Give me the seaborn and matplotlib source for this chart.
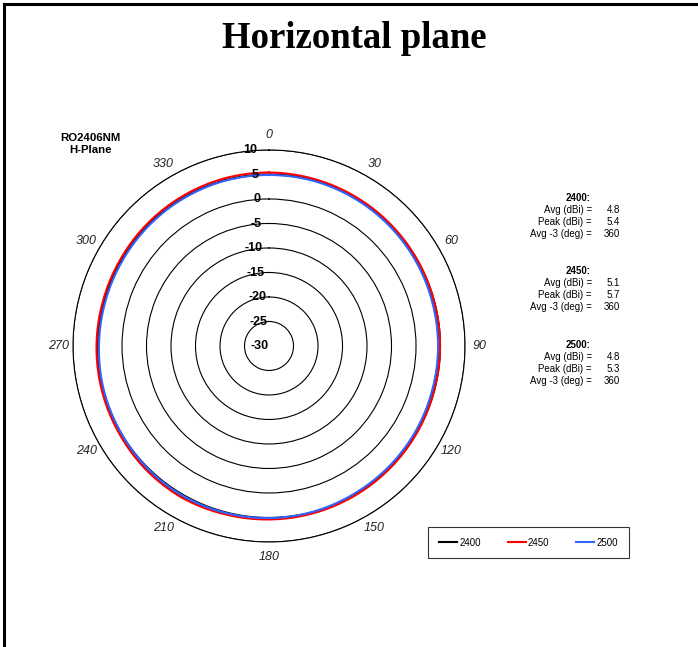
import numpy as np
import pandas as pd
import matplotlib
matplotlib.use("Agg")
import matplotlib.pyplot as plt
import seaborn as sns

# angles (deg) and gain readings (dBi) for each frequency
angles = [0, 15, 30, 45, 60, 75, 90, 105, 120, 135, 150, 165,
          180, 195, 210, 225, 240, 255, 270, 285, 300, 315, 330, 345, 360]
gain_2400 = [5.0, 5.0, 4.9, 4.8, 4.7, 4.6, 4.6, 4.6, 4.7, 4.8, 4.9, 5.1,
             5.2, 5.3, 5.4, 5.3, 5.1, 5.0, 4.9, 4.8, 4.8, 4.8, 4.9, 5.0, 5.0]
gain_2450 = [5.4, 5.3, 5.2, 5.1, 5.0, 4.9, 4.9, 4.9, 5.0, 5.1, 5.2, 5.3,
             5.4, 5.5, 5.7, 5.6, 5.4, 5.3, 5.2, 5.1, 5.1, 5.2, 5.3, 5.4, 5.4]
gain_2500 = [4.9, 4.9, 4.8, 4.7, 4.6, 4.5, 4.5, 4.5, 4.6, 4.7, 4.8, 5.0,
             5.1, 5.2, 5.3, 5.2, 5.0, 4.9, 4.7, 4.6, 4.6, 4.7, 4.8, 4.9, 4.9]

freqs = ["2400", "2450", "2500"]
colors = ["#000000", "#ff0000", "#3366ff"]
avg_dbi = ["4.8", "5.1", "4.8"]
peak_dbi = ["5.4", "5.7", "5.3"]
avg3_deg = ["360", "360", "360"]

r_ticks = [-30, -25, -20, -15, -10, -5, 0, 5, 10]
theta_ticks = list(range(0, 360, 30))

df = pd.DataFrame({
    "theta": np.deg2rad(angles * 3),
    "gain": gain_2400 + gain_2450 + gain_2500,
    "freq": [f for f in freqs for _ in angles],
})

fig = plt.figure(figsize=(6.98, 6.47), dpi=100)
ax = fig.add_axes([0.1046, 0.1623, 0.5616, 0.6059], projection="polar")

sns.lineplot(data=df, x="theta", y="gain", hue="freq", palette=colors,
             sort=False, linewidth=1.5, ax=ax)
ax.get_legend().remove()

# draw the segments between readings as arcs, not chords
for ln in ax.get_lines():
    ln.get_path()._interpolation_steps = 40

ax.set_theta_zero_location("N")
ax.set_theta_direction(-1)
ax.set_ylim(-30, 10)
ax.set_xlabel("")
ax.set_ylabel("")

# circles only, no spokes
ax.xaxis.grid(False)
ax.set_yticks(r_ticks)
ax.set_yticklabels([])
ax.yaxis.grid(True, color="black", linewidth=0.8)
ax.spines["polar"].set_linewidth(0.8)

# angle labels centred on a ring just outside the plot
ax.set_xticks(np.deg2rad(theta_ticks))
ax.set_xticklabels([])
for t in theta_ticks:
    ax.text(np.deg2rad(t), 13.0, str(t), ha="center", va="center",
            fontstyle="italic", fontsize=9, color="#222222",
            family="Liberation Sans", clip_on=False)

# radial labels on the 0 deg line
for r in r_ticks:
    ax.text(np.deg2rad(-3.5), r, str(r), ha="right", va="center",
            fontsize=9, fontweight="bold", family="Liberation Sans")

fig.text(0.507, 0.941, "Horizontal plane", ha="center", va="center",
         fontsize=26.5, fontweight="bold", family="Liberation Serif")
fig.text(0.13, 0.778, "RO2406NM\nH-Plane", ha="center", va="center",
         fontsize=8.2, fontweight="bold", family="Liberation Sans",
         linespacing=1.25)

# stats block
top_y = [198, 271, 345]
for i, f in enumerate(freqs):
    y0 = top_y[i]
    fig.text(578 / 698, 1 - y0 / 647, f + ":", ha="center", va="center",
             fontsize=7, fontweight="bold", family="Liberation Sans")
    rows = [("Avg (dBi) =", avg_dbi[i]), ("Peak (dBi) =", peak_dbi[i]),
            ("Avg -3 (deg) =", avg3_deg[i])]
    for j, (lab, val) in enumerate(rows):
        yy = 1 - (y0 + 12 * (j + 1)) / 647
        fig.text(592 / 698, yy, lab, ha="right", va="center",
                 fontsize=7, family="Liberation Sans")
        fig.text(620 / 698, yy, val, ha="right", va="center",
                 fontsize=7, family="Liberation Sans")

lines = ax.get_lines()[:3]
leg = fig.legend(lines, freqs, loc="center", ncol=3,
                 bbox_to_anchor=(528.5 / 698, 1 - 542.5 / 647),
                 frameon=True, fancybox=False,
                 handlelength=1.85, handletextpad=0.2, columnspacing=2.8,
                 borderpad=1.1, prop={"family": "Liberation Sans", "size": 7})
leg.get_frame().set_edgecolor("black")
leg.get_frame().set_linewidth(0.8)

# partial page frame (left and top edges)
fig.add_artist(plt.Line2D([4 / 698, 4 / 698], [0, 1 - 4 / 647],
                          color="black", linewidth=2.2))
fig.add_artist(plt.Line2D([4 / 698, 1], [1 - 4 / 647, 1 - 4 / 647],
                          color="black", linewidth=2.2))

fig.savefig("out.png", dpi=100)
